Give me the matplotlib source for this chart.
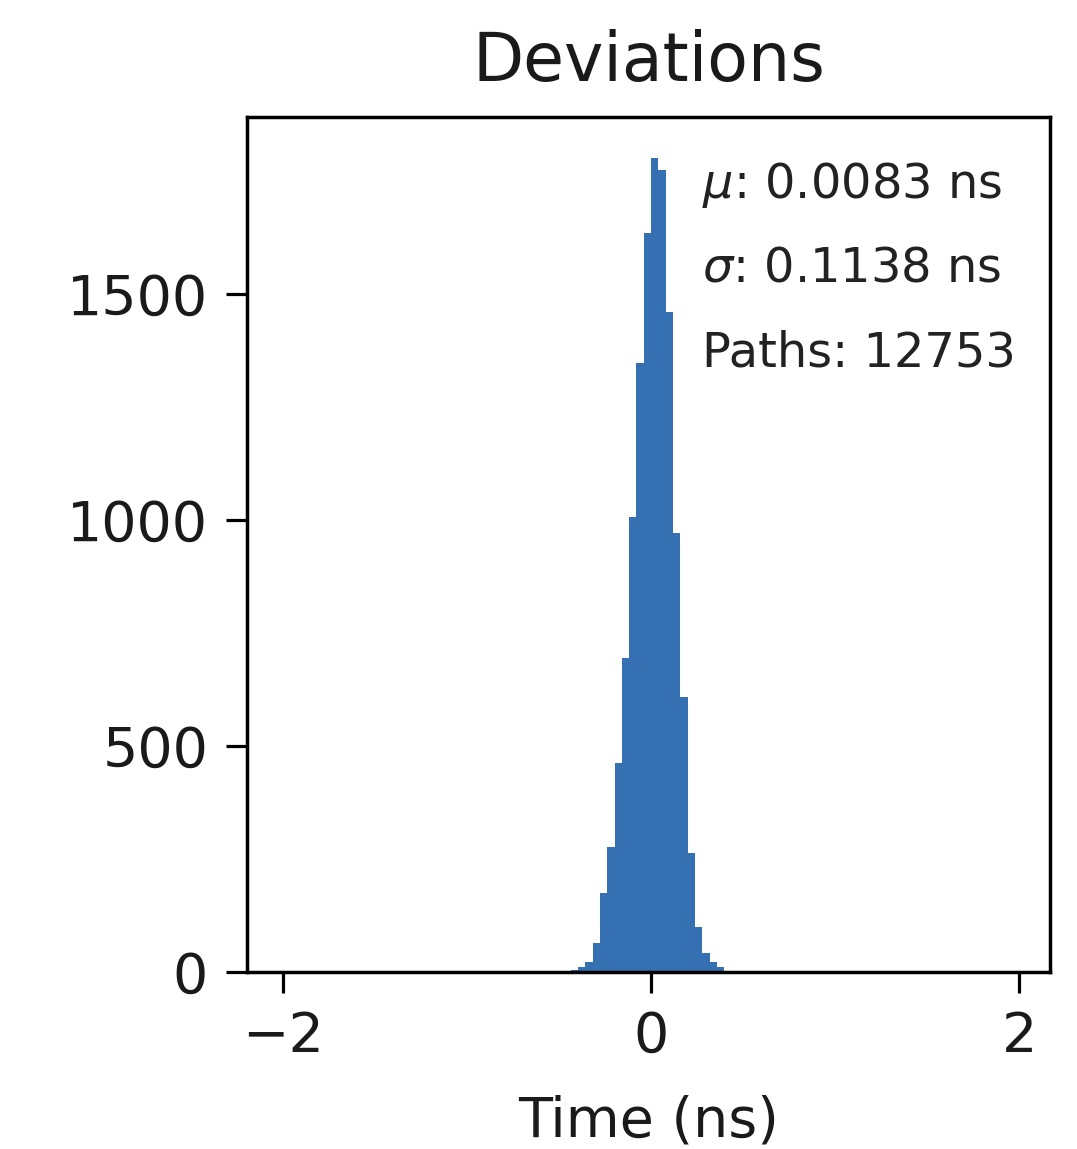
import numpy as np
import matplotlib
matplotlib.use("Agg")
import matplotlib.pyplot as plt

# ---- data ----
bin_start = -1.985          # ns, left edge of first bin
bin_width = 0.0397          # ns
n_bins = 100
# counts for bins with index k relative to the bin starting at 0 ns (k = -12 .. 11)
k_index = [-12, -11, -10, -9, -8, -7, -6, -5, -4, -3, -2, -1,
           0, 1, 2, 3, 4, 5, 6, 7, 8, 9, 10, 11]
counts = [3, 5, 10, 22, 64, 175, 276, 462, 694, 1006, 1348, 1634,
          1801, 1773, 1459, 970, 608, 263, 99, 42, 22, 11, 3, 2]
mu_text = r"$\mu$: 0.0083 ns"
sigma_text = r"$\sigma$: 0.1138 ns"
paths_text = "Paths: 12753"
title = "Deviations"
xlabel = "Time (ns)"
xticks = [-2, 0, 2]
yticks = [0, 500, 1000, 1500]

edges = bin_start + bin_width * np.arange(n_bins + 1)
zero_bin = int(round(-bin_start / bin_width))
centers = np.array([edges[zero_bin + k] + bin_width / 2 for k in k_index])

fig = plt.figure(figsize=(10.77, 11.49), dpi=100)
ax = fig.add_axes([247 / 1077, 1 - 972 / 1149, (1050 - 247) / 1077, (972 - 117) / 1149])

ax.hist(centers, bins=edges, weights=counts, color="#3470b2")
ax.set_xlim(-2.196, 2.168)
ax.set_ylim(0, 1891)
ax.set_xticks(xticks)
ax.set_yticks(yticks)
ax.set_xticklabels([str(t).replace("-", "\u2212") for t in xticks])

for s in ax.spines.values():
    s.set_linewidth(2.5)
ax.tick_params(axis="both", labelsize=40, length=15, width=2.3, pad=13, labelcolor="#1a1a1a")
ax.tick_params(axis="x", pad=12)

ax.set_title(title, fontsize=48, pad=26, color="#1a1a1a")
ax.set_xlabel(xlabel, fontsize=40, labelpad=22, color="#1a1a1a")

tx = (702 - 247) / 803
for txt, ypx in [(mu_text, 185), (sigma_text, 268), (paths_text, 353)]:
    ax.text(tx, (972 - ypx) / 855, txt, transform=ax.transAxes,
            fontsize=34.5, ha="left", va="center", color="#222222")

fig.savefig("out.png", dpi=100, facecolor="white")
